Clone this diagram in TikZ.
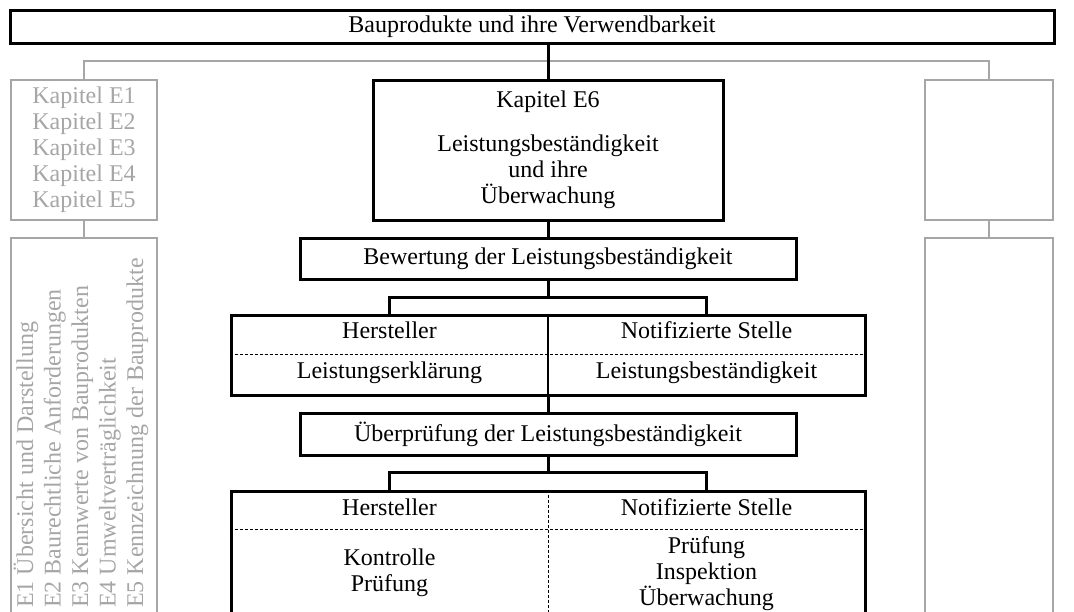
\documentclass[tikz,border=0pt]{standalone}
\usepackage{fontspec}
\setmainfont{Liberation Serif}
\usetikzlibrary{positioning}
\definecolor{hellgrau}{RGB}{166,166,166}

\begin{document}
\begin{tikzpicture}[
    x=0.75pt, y=-0.75pt,
    font=\fontsize{18}{19.5}\selectfont,
    kasten/.style={rectangle, draw=black, line width=2.25pt, inner sep=0pt, align=center},
    grkasten/.style={rectangle, draw=hellgrau, line width=1.8pt, inner sep=0pt, align=center},
    linie/.style={line width=2.25pt, draw=black},
    grlinie/.style={line width=1.8pt, draw=hellgrau},
    trenn/.style={line width=0.75pt, dash pattern=on 2.25pt off 1.5pt},
    txt/.style={inner sep=0pt, text height=0.66em, text depth=0pt},
    seitentxt/.style={rotate=90, anchor=base west, inner sep=0pt, text=hellgrau}
  ]
    \useasboundingbox (0,0) rectangle (1074,611);
    \clip (0,0) rectangle (1074,611);

    \node[kasten, minimum width=783pt, minimum height=24.75pt] (top) at (532,26.5) {Bauprodukte und ihre Verwendbarkeit};

    % graue Seitenspalten
    \node[grkasten, minimum width=109.5pt, minimum height=105pt, text=hellgrau] (kapl) at (84,150) {Kapitel E1\\Kapitel E2\\Kapitel E3\\Kapitel E4\\Kapitel E5};
    \node[grkasten, minimum width=96pt, minimum height=105pt] (kapr) at (989,150) {};
    \node[grkasten, minimum width=109.5pt, minimum height=309.75pt] (inhl) at (84,444.5) {};
    \node[grkasten, minimum width=96pt, minimum height=309.75pt] (inhr) at (989,444.5) {};
    \coordinate (gbar) at (540,61);
    \draw[grlinie] (kapl.north) |- (gbar) -| (kapr.north);
    \draw[grlinie] (kapl) -- (inhl);
    \draw[grlinie] (kapr) -- (inhr);

    \node[seitentxt] (e1) at (33,608) {E1 Übersicht und Darstellung};
    \node[seitentxt] (e2) at (60.5,608) {E2 Baurechtliche Anforderungen};
    \node[seitentxt] (e3) at (88,608) {E3 Kennwerte von Bauprodukten};
    \node[seitentxt] (e4) at (115.5,608) {E4 Umweltverträglichkeit};
    \node[seitentxt] (e5) at (143,608) {E5 Kennzeichnung der Bauprodukte};

    % Mittelspalte
    \node[kasten, minimum width=262.5pt, minimum height=105pt] (e6) at (548,150) {Kapitel E6\\[13.5pt]Leistungsbeständigkeit\\und ihre\\Überwachung};
    \node[kasten, minimum width=372pt, minimum height=30.75pt] (bew) at (548,258.5) {Bewertung der Leistungsbeständigkeit};
    \draw[linie] (e6.north) -- (e6.north |- top.south);
    \draw[linie] (e6) -- (bew);

    \node[kasten, minimum width=475.5pt, minimum height=60pt] (lb) at (548,355) {};
    \node[txt] (lbhl) at (389.5,334.5) {Hersteller};
    \node[txt] (lbnl) at (706.5,334.5) {Notifizierte Stelle};
    \node[txt] (lbhu) at (389.5,374.5) {Leistungserklärung};
    \node[txt] (lbnu) at (706.5,374.5) {Leistungsbeständigkeit};
    \coordinate (lbtr) at (548,354);
    \draw[trenn] (lb.west |- lbtr) -- (lb.east |- lbtr);
    \draw[line width=1pt] (lb.north) -- (lb.south);

    \coordinate (br1) at (548,297);
    \draw[linie] (bew.south) -- (br1);
    \draw[linie] (lb.north -| lbhl) |- (br1) -| (lb.north -| lbnl);

    \node[kasten, minimum width=372pt, minimum height=31.5pt] (ueb) at (548,434) {Überprüfung der Leistungsbeständigkeit};
    \draw[linie] (lb) -- (ueb);

    \node[kasten, minimum width=475.5pt, minimum height=120pt] (ub) at (548,571) {};
    \node[txt] (ubhl) at (389.5,511) {Hersteller};
    \node[txt] (ubnl) at (706.5,511) {Notifizierte Stelle};
    \node[align=center, inner sep=0pt] (ubhu) at (389.5,572.5) {Kontrolle\\Prüfung};
    \node[align=center, inner sep=0pt] (ubnu) at (706.5,574) {Prüfung\\Inspektion\\Überwachung};
    \coordinate (ubtr) at (548,529);
    \draw[trenn] (ub.west |- ubtr) -- (ub.east |- ubtr);
    \draw[trenn] (ub.north) -- (ub.south);

    \coordinate (br2) at (548,472);
    \draw[linie] (ueb.south) -- (br2);
    \draw[linie] (ub.north -| ubhl) |- (br2) -| (ub.north -| ubnl);
  \end{tikzpicture}
\end{document}
